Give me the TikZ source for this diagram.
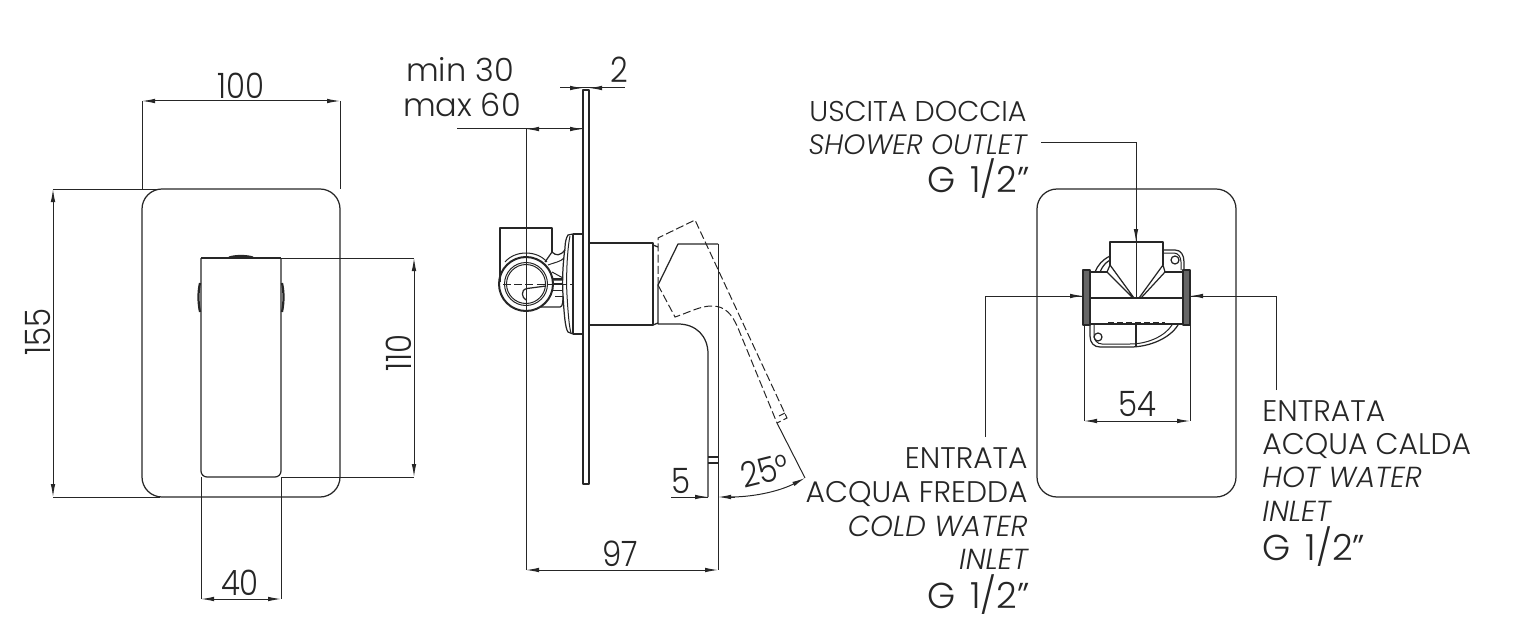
\documentclass[tikz,border=0pt]{standalone}
\usepackage{fontspec}
\setmainfont{Poppins}[UprightFont=* Light,ItalicFont=* Light Italic]
\newfontfamily\narfont{Poppins}[UprightFont=* Light,FakeStretch=0.88]
\usetikzlibrary{arrows.meta}
\definecolor{ink}{HTML}{262626}
\newcommand{\gthr}{G\hspace{0.42em}1/2\char39\char39}
\tikzset{
  x=0.5pt,y=-0.5pt,
  body/.style={draw=ink,line width=0.62pt,line join=round},
  thin line/.style={draw=ink,line width=0.5pt},
  thick part/.style={draw=ink,line width=1.1pt},
  dashpart/.style={draw=ink,line width=0.5pt,dash pattern=on 4pt off 1.6pt},
  dim/.style={draw=ink,line width=0.5pt},
  tip/.tip={Latex[length=6.5pt,width=2.3pt]},
  num/.style={font=\fontsize{17.5}{20}\selectfont\narfont,text=ink,inner sep=0pt},
  wide num/.style={font=\fontsize{16}{20}\selectfont,text=ink,inner sep=0pt},
  lab/.style={font=\fontsize{14.9}{18}\selectfont,text=ink,inner sep=0pt},
  itl/.style={font=\fontsize{14.5}{18}\selectfont\itshape,text=ink,inner sep=0pt},
  gthread/.style={font=\fontsize{18}{22}\selectfont,text=ink,inner sep=0pt},
}
\begin{document}
\begin{tikzpicture}
\useasboundingbox (0,0) rectangle (1520,631);
%% ---------- front view
\draw[body,rounded corners=10pt] (142,189) rectangle (340,497);
\draw[body] (201,258) -- (281,258);
\draw[body,rounded corners=3pt] (201,258) -- (201,477) -- (281,477) -- (281,258);
\draw[thick part] (229,257.5) .. controls (236,255.5) and (246,255.5) .. (253,257.5);
\draw[thick part] (200,283) .. controls (198,292) and (198,302) .. (200,312);
\draw[thick part] (282,283) .. controls (284,292) and (284,302) .. (282,312);
% dims front
\draw[dim] (142,101) -- (142,189) (340,101) -- (340,189);
\draw[dim,tip-tip] (142,101) -- (340,101);
\node[num,anchor=base] (t100) at (241,98) {100};
\draw[dim] (53,189) -- (160,189) (53,497) -- (160,497);
\draw[dim,tip-tip] (53,189) -- (53,497);
\node[num,anchor=base,rotate=90] (t155) at (50,332) {155};
\draw[dim] (281,258) -- (414,258) (281,477) -- (414,477);
\draw[dim,tip-tip] (414,258) -- (414,477);
\node[num,anchor=base,rotate=90] (t110) at (411,353) {110};
\draw[dim] (201,477) -- (201,599) (281,477) -- (281,599);
\draw[dim,tip-tip] (201,599) -- (281,599);
\node[num,anchor=base] (t40) at (240,595) {40};
%% ---------- side view
\draw[body] (583,90) -- (583,484) -- (589,484) -- (589,90) -- cycle;
\draw[body] (589,243) -- (653,243) -- (653,325) -- (589,325);
\draw[body] (653,245) -- (658,247) (653,325) -- (658,323);
\draw[body] (658,285) -- (658,324) -- (678,324) .. controls (696,324) and (708,336) .. (708,354) -- (708,497);
\draw[body] (658,285) -- (678,244) -- (718,244);
\draw[body] (708,457) -- (718,457) (708,463) -- (718,463);
\draw[dashpart] (658,285) -- (658,238) -- (695,220) -- (787,418) -- (777,423);
\draw[dashpart] (658,285) -- (675,317) .. controls (690,312) and (700,306) .. (712,306) .. controls (725,306) and (732,314) .. (738,328) -- (777,423);
\draw[thin line] (779,416) -- (785,413);
\draw[dim] (777,423) -- (805,478);
% valve (side)
\draw[body] (500,282) -- (500,228) -- (552,228) -- (552,252);
\draw[body,line width=1pt] (526,284) circle[radius=27];
\draw[thin line] (526,284) circle[radius=21.5];
\draw[thin line] (526,284) circle[radius=19.5];
\draw[thin line] (505,262) .. controls (515,250) and (537,250) .. (547,262);
\draw[dashpart] (503,284) -- (572,284);
\draw[body] (527,288.5) -- (546,286);
\draw[body] (527,288.5) .. controls (520,290) and (522,298) .. (526,300);
\draw[body] (573,234) -- (583,234) (573,334) -- (583,334) (573,234) -- (573,334);
\draw[body] (573,234) -- (568,235) .. controls (566,238) and (565,243) .. (565,248) .. controls (563,262) and (562,280) .. (563,295) .. controls (564,312) and (565,328) .. (568,332) -- (573,334);
\draw[thin line] (570,236) .. controls (567,250) and (566,280) .. (567,295) .. controls (568,312) and (569,326) .. (571,333);
\draw[body] (545,262) -- (552,252) .. controls (556,256) and (560,256) .. (565,250);
\draw[thin line] (548,265) .. controls (556,262) and (560,262) .. (564,258);
\draw[thin line] (552,272) -- (563,278) (552,280) -- (563,280);
\draw[thick part] (553,279) -- (563,279) (553,284) -- (563,284);
\draw[thin line] (553,290) -- (563,290) (555,296) -- (563,296);
\draw[body] (541,307) -- (560,307) .. controls (563,307) and (563,300) .. (563,296);
% dims side
\draw[dim] (560,88) -- (625,88);
\draw[dim,-tip] (571,88) -- (583,88);
\draw[dim,-tip] (601,88) -- (589,88);
\node[num,anchor=base] (t2) at (619,83) {2};
\node[wide num,anchor=base] (tmin) at (460,82) {min 30};
\node[wide num,anchor=base] (tmax) at (462,117) {max 60};
\draw[dim] (457,129) -- (583,129);
\draw[dim,-tip] (540,129) -- (526,129);
\draw[dim,-tip] (570,129) -- (583,129);
\draw[dim] (526,129) -- (526,570);
\draw[dim] (718,244) -- (718,570);
\draw[dim,tip-tip] (526,570) -- (718,570);
\node[num,anchor=base] (t97) at (620,566) {97};
\draw[dim] (671,497) -- (708,497);
\draw[dim,-tip] (690,497) -- (708,497);
\draw[dim,-tip] (735,497) -- (718,497);
\draw[dim,-tip] (730,497) .. controls (757,497) and (782,490) .. (805,478);
\node[num,anchor=base] (t5) at (681,493) {5};
\node[num,anchor=base,rotate=14] (t25) at (768,483) {25°};
%% ---------- rear view
\draw[body,rounded corners=10pt] (1037,189) rectangle (1236,497);
\draw[body] (1110,265) -- (1110,242) -- (1163,242) -- (1163,265);
\draw[body,fill=gray!80!black] (1083,270) rectangle (1090,325);
\draw[body,fill=gray!80!black] (1183,270) rectangle (1190,325);
\draw[body] (1090,298) -- (1183,298) (1090,324) -- (1183,324);
\draw[body] (1090,272) -- (1107,272) (1165,272) -- (1183,272);
\draw[body] (1110,265) -- (1134,298) (1107,272) -- (1133,298) (1107,272) -- (1110,265);
\draw[body] (1163,265) -- (1139,298) (1165,272) -- (1141,298) (1165,272) -- (1163,265);
\draw[body] (1163,250) -- (1175,250) .. controls (1181,250) and (1184,255) .. (1184,262) -- (1184,270);
\draw[thin line] (1163,253) -- (1174,253) .. controls (1178,253) and (1181,257) .. (1181,262) -- (1181,270);
\draw[body] (1175,260) circle[radius=4];
\draw[body] (1110,256) .. controls (1102,260) and (1098,265) .. (1095,272);
\draw[body] (1110,260) .. controls (1105,263) and (1102,267) .. (1100,272);
\draw[body] (1090,325) -- (1090,336) .. controls (1090,343) and (1094,347) .. (1100,347) -- (1130,347) .. controls (1150,347) and (1170,338) .. (1178,325);
\draw[thin line] (1094,325) -- (1094,335) .. controls (1094,340) and (1097,344) .. (1102,344) -- (1130,344) .. controls (1148,344) and (1165,336) .. (1172,325);
\draw[body] (1098,337) circle[radius=4];
\draw[thick part] (1136,325) -- (1136,347);
\draw[thick part,dash pattern=on 3pt off 1.5pt] (1108,323) -- (1165,323);
% dims rear
\draw[dim] (1041,143) -- (1136,143) -- (1136,298);
\draw[dim,-tip] (1136,225) -- (1136,242);
\draw[dim] (985,437) -- (985,296) -- (1083,296);
\draw[dim,-tip] (1066,296) -- (1083,296);
\draw[dim] (1276,390) -- (1276,296) -- (1190,296);
\draw[dim,-tip] (1207,296) -- (1190,296);
\draw[dim] (1084,325) -- (1084,421) (1190,325) -- (1190,421);
\draw[dim,tip-tip] (1084,421) -- (1190,421);
\node[num,anchor=base] (t54) at (1137,416) {54};
%% labels
\node[lab,font=\fontsize{14.3}{18}\selectfont,anchor=base east] (a1) at (1027,122) {USCITA DOCCIA};
\node[itl,font=\fontsize{14}{18}\selectfont\itshape,anchor=base east] (a2) at (1027,155) {SHOWER OUTLET};
\node[gthread,anchor=base east] (a3) at (1030,192) {\gthr};
\node[lab,anchor=base east] (b1) at (1028,468) {ENTRATA};
\node[lab,anchor=base east] (b2) at (1028,502) {ACQUA FREDDA};
\node[itl,anchor=base east] (b3) at (1028,536) {COLD WATER};
\node[itl,anchor=base east] (b4) at (1028,569) {INLET};
\node[gthread,anchor=base east] (b5) at (1030,608) {\gthr};
\node[lab,anchor=base west] (c1) at (1262,421) {ENTRATA};
\node[lab,anchor=base west] (c2) at (1262,454) {ACQUA CALDA};
\node[itl,anchor=base west] (c3) at (1262,487) {HOT WATER};
\node[itl,anchor=base west] (c4) at (1262,521) {INLET};
\node[gthread,anchor=base west] (c5) at (1262,560) {\gthr};
\end{tikzpicture}
\end{document}
